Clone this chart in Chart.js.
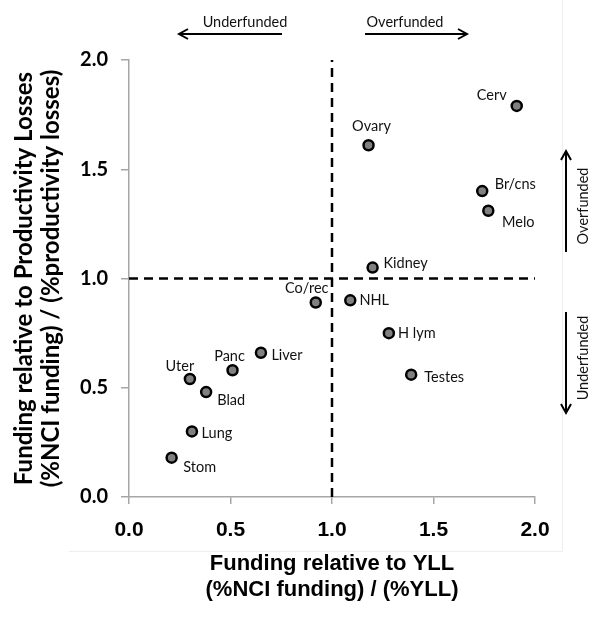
<!DOCTYPE html>
<html>
<head>
<meta charset="utf-8">
<script src="https://cdn.jsdelivr.net/npm/chart.js@4.4.1/dist/chart.umd.min.js"></script>
<style>
html,body{margin:0;padding:0;background:#fff}
</style>
</head>
<body>
<canvas id="myChart" width="600" height="617"></canvas>
<script>
let cancers=['Cerv','Ovary','Br/cns','Melo','Kidney','Co/rec','NHL','H lym','Testes','Liver','Panc','Uter','Blad','Lung','Stom']
let yllRatio=[1.91,1.18,1.74,1.77,1.20,0.92,1.09,1.28,1.39,0.65,0.51,0.30,0.38,0.31,0.21]
let prodRatio=[1.79,1.61,1.40,1.31,1.05,0.89,0.90,0.75,0.56,0.66,0.58,0.54,0.48,0.30,0.18]
let tickValues=[0,0.5,1,1.5,2]
let parity=1

// where each name sits relative to its dot (px)
let labelOffset={
  'Cerv':[-25,-11],'Ovary':[3,-19],'Br/cns':[33,-7],'Melo':[30,12],'Kidney':[33,-4],
  'Co/rec':[-9,-14],'NHL':[24,0],'H lym':[28,0],'Testes':[33,3],'Liver':[26,3],
  'Panc':[-3,-14],'Uter':[-10,-13],'Blad':[25,8],'Lung':[25,2],'Stom':[28,10]
}

let points=[]
for(let i=0;i<cancers.length;i++){
  points.push({x:yllRatio[i],y:prodRatio[i]})
}

function arrow(ctx,x1,y1,x2,y2){
  let a=Math.atan2(y2-y1,x2-x1)
  ctx.beginPath()
  ctx.moveTo(x1,y1)
  ctx.lineTo(x2,y2)
  ctx.moveTo(x2-9*Math.cos(a)+5*Math.sin(a),y2-9*Math.sin(a)-5*Math.cos(a))
  ctx.lineTo(x2,y2)
  ctx.lineTo(x2-9*Math.cos(a)-5*Math.sin(a),y2-9*Math.sin(a)+5*Math.cos(a))
  ctx.stroke()
}

const extras={
  id:'extras',
  beforeDraw(chart){
    let ctx=chart.ctx
    ctx.save()
    ctx.strokeStyle='#eeeeee'
    ctx.lineWidth=1
    ctx.beginPath()
    ctx.moveTo(562.5,0)
    ctx.lineTo(562.5,551.5)
    ctx.lineTo(69,551.5)
    ctx.stroke()
    ctx.restore()
  },
  afterDraw(chart){
    let ctx=chart.ctx
    ctx.save()
    // point names
    let meta=chart.getDatasetMeta(0)
    ctx.font='14.5px Lato'
    ctx.fillStyle='#111'
    ctx.textAlign='center'
    ctx.textBaseline='middle'
    meta.data.forEach(function(p,i){
      let off=labelOffset[cancers[i]]
      ctx.fillText(cancers[i],p.x+off[0],p.y+off[1])
    })
    // funding arrows
    ctx.strokeStyle='#000'
    ctx.lineWidth=2
    arrow(ctx,282,34,179,34)
    arrow(ctx,365,34,467,34)
    arrow(ctx,566,252,566,151)
    arrow(ctx,566,312,566,413)
    ctx.font='14.5px Lato'
    ctx.fillStyle='#111'
    ctx.textBaseline='alphabetic'
    ctx.fillText('Underfunded',245,27)
    ctx.fillText('Overfunded',405,27)
    ctx.translate(588,206)
    ctx.rotate(-Math.PI/2)
    ctx.fillText('Overfunded',0,0)
    ctx.rotate(Math.PI/2)
    ctx.translate(0,152)
    ctx.rotate(-Math.PI/2)
    ctx.fillText('Underfunded',0,0)
    ctx.restore()
  }
}

const ctx=document.getElementById('myChart')

new Chart(ctx,{
  type:'scatter',
  data:{
    datasets:[{
      data:points,
      pointRadius:5,
      pointBorderWidth:2.5,
      pointBackgroundColor:'#808080',
      pointBorderColor:'#000'
    },{
      type:'line',
      data:[{x:parity,y:0},{x:parity,y:2}],
      borderColor:'#000',
      borderWidth:2.5,
      borderDash:[9,6],
      pointRadius:0
    },{
      type:'line',
      data:[{x:0,y:parity},{x:2,y:parity}],
      borderColor:'#000',
      borderWidth:2.5,
      borderDash:[9,6],
      pointRadius:0
    }]
  },
  options:{
    responsive:false,
    animation:false,
    devicePixelRatio:1,
    layout:{padding:{top:60,right:65,left:0,bottom:0}},
    plugins:{legend:{display:false},tooltip:{enabled:false}},
    scales:{
      x:{
        type:'linear',
        min:0,max:2,
        afterFit(s){s.height=120},
        afterBuildTicks(s){s.ticks=tickValues.map(v=>({value:v}))},
        border:{display:true,color:'#a6a6a6',width:1.5},
        grid:{drawOnChartArea:false,drawTicks:true,tickLength:7,color:'#a6a6a6',lineWidth:1.5},
        ticks:{
          callback:v=>v.toFixed(1),
          font:{family:'"Liberation Sans", Arial, sans-serif',size:21,weight:'bold'},
          color:'#000',padding:14
        },
        title:{
          display:true,
          text:['Funding relative to YLL','(%NCI funding) / (%YLL)'],
          font:{family:'"Liberation Sans", Arial, sans-serif',size:22,weight:'bold',lineHeight:26/22},
          color:'#000',
          padding:{top:0,bottom:14}
        }
      },
      y:{
        type:'linear',
        min:0,max:2,
        afterFit(s){s.width=129},
        afterBuildTicks(s){s.ticks=tickValues.map(v=>({value:v}))},
        border:{display:true,color:'#a6a6a6',width:1.5},
        grid:{drawOnChartArea:false,drawTicks:true,tickLength:8,color:'#a6a6a6',lineWidth:1.5},
        ticks:{
          callback:v=>v.toFixed(1),
          font:{family:'Lato, sans-serif',size:20,weight:'bold'},
          color:'#000',padding:13
        },
        title:{
          display:true,
          text:['Funding relative to Productivity Losses','(%NCI funding) / (%productivity losses)'],
          font:{family:'Lato, sans-serif',size:24,weight:'bold',lineHeight:27/24},
          color:'#000',
          padding:{top:11,bottom:0}
        }
      }
    }
  },
  plugins:[extras]
})
</script>
</body>
</html>
